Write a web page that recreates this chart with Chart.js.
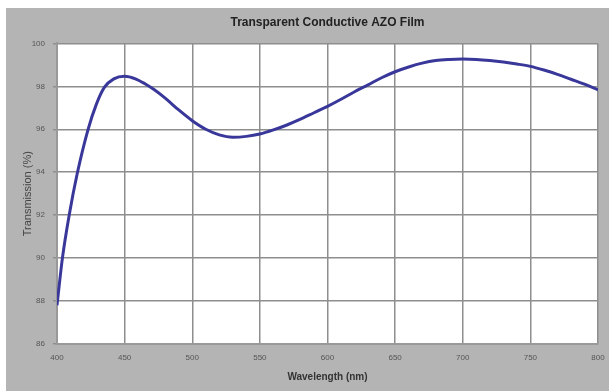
<!DOCTYPE html>
<html>
<head>
<meta charset="utf-8">
<script src="https://cdn.jsdelivr.net/npm/chart.js@4.4.1/dist/chart.umd.min.js"></script>
<style>
  html, body { margin: 0; padding: 0; background: #fff; }
  #wrap { width: 609px; height: 391px; position: relative; }
</style>
</head>
<body>
<div id="wrap"><canvas id="c"></canvas></div>
<script>
// Values.
const wavelength = [400, 404, 409, 415, 423, 429, 435, 442, 450, 458, 465, 472, 480, 490, 500,
                    510, 520, 530, 540, 550, 560, 570, 580, 590, 600, 610, 620, 630, 640, 650, 660, 670, 680,
                    690, 700, 710, 720, 730, 740, 750, 760, 770, 780, 790, 800];
const transmission = [87.8, 90.0, 92.0, 93.95, 96.0, 97.15, 97.95, 98.35, 98.47, 98.35, 98.12, 97.84, 97.45, 96.9, 96.4,
                      96.0, 95.74, 95.63, 95.67, 95.78, 95.97, 96.2, 96.47, 96.77, 97.07, 97.4, 97.75, 98.07, 98.4, 98.68, 98.9, 99.08, 99.2,
                      99.25, 99.27, 99.25, 99.2, 99.13, 99.04, 98.93, 98.76, 98.56, 98.33, 98.1, 97.84];
const xTicks = [400, 450, 500, 550, 600, 650, 700, 750, 800];
const yTicks = [86, 88, 90, 92, 94, 96, 98, 100];

const GRID = "#8e8e8e";
const TICK_TXT = "#555";
const FONT = "Liberation Sans, Arial, sans-serif";

// Grey card behind the chart plus white plot area.
const backdrop = {
    id: "backdrop",
    beforeDraw(chart) {
        const { ctx, chartArea: a } = chart;
        ctx.save();
        ctx.fillStyle = "#fff";
        ctx.fillRect(0, 0, chart.width, chart.height);
        ctx.fillStyle = "#b4b4b4";
        ctx.fillRect(6, 8, chart.width - 6, chart.height - 8);
        ctx.fillStyle = "#fff";
        ctx.fillRect(a.left, a.top, a.right - a.left, a.bottom - a.top);
        ctx.restore();
    },
};

new Chart(document.getElementById("c"), {
    type: "line",
    data: {
        datasets: [{
            data: wavelength.map((w, i) => ({ x: w, y: transmission[i] })),
            borderColor: "#39389a",
            borderWidth: 3,
            pointRadius: 0,
            cubicInterpolationMode: "monotone",
            fill: false,
        }],
    },
    options: {
        responsive: true,
        maintainAspectRatio: false,
        animation: false,
        devicePixelRatio: 1,
        layout: { padding: { left: 0, right: 11, top: 0, bottom: 0 } },
        plugins: {
            legend: { display: false },
            tooltip: { enabled: false },
            title: {
                display: true,
                fullSize: false, // centre over the plot, not the canvas
                text: "Transparent Conductive AZO Film",
                color: "#222",
                font: { family: FONT, size: 12, weight: "bold" },
                padding: { top: 15, bottom: 14 },
            },
        },
        scales: {
            x: {
                type: "linear",
                min: 400, max: 800,
                // the "800" label may hang into the right margin
                afterFit: s => { s.height = 47; s.paddingLeft = 0; s.paddingRight = 0; },
                afterBuildTicks: s => { s.ticks = xTicks.map(v => ({ value: v })); },
                ticks: { color: TICK_TXT, padding: 9, font: { family: FONT, size: 8 } },
                grid: { color: GRID, lineWidth: 1.5, drawTicks: false },
                border: { color: "#999", width: 2 },
                title: {
                    display: true, text: "Wavelength (nm)", color: "#333",
                    font: { family: FONT, size: 10, weight: "bold" },
                    padding: { top: 0, bottom: 8 },
                },
            },
            y: {
                min: 86, max: 100,
                afterFit: s => { s.width = 57; },
                afterBuildTicks: s => { s.ticks = yTicks.map(v => ({ value: v })); },
                ticks: { color: TICK_TXT, padding: 8, font: { family: FONT, size: 8 } },
                grid: { color: GRID, lineWidth: 1.5, tickLength: 4 },
                border: { color: "#999", width: 2 },
                title: {
                    display: true, text: "Transmission (%)", color: "#444",
                    font: { family: FONT, size: 11 },
                    padding: { top: 21, bottom: 0 },
                },
            },
        },
    },
    plugins: [backdrop],
});
</script>
</body>
</html>
